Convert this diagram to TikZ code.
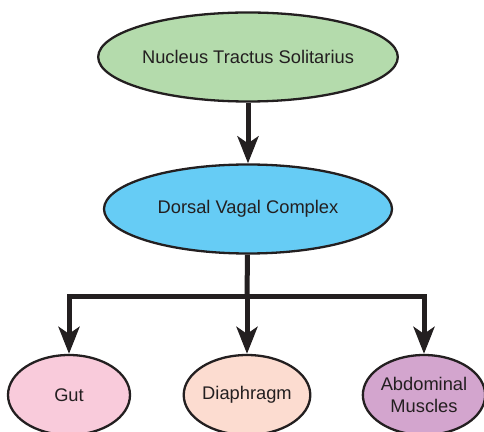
\documentclass[tikz,border=0pt]{standalone}
\usepackage{fontspec}
\setmainfont{Liberation Sans}
\usepackage{tikz}
\usetikzlibrary{arrows.meta, shapes.geometric}
\definecolor{ink}{RGB}{35, 31, 32}
\definecolor{ntsgreen}{RGB}{180, 219, 172}
\definecolor{dvcblue}{RGB}{102, 204, 245}
\definecolor{gutpink}{RGB}{249, 203, 219}
\definecolor{diapeach}{RGB}{252, 220, 208}
\definecolor{abdpurple}{RGB}{211, 165, 206}

\begin{document}
\begin{tikzpicture}[x=1pt, y=1pt,
    blob/.style={ellipse, draw=ink, line width=2.3pt, inner sep=0pt, text=ink,
                 align=center, font=\fontsize{18.3}{22}\selectfont},
    big/.style={blob, minimum width=288pt, minimum height=89pt},
    small/.style={blob, minimum width=120pt, minimum height=80pt},
    wire/.style={draw=ink, line width=5pt, miter limit=10},
    arrow/.style={wire, -{Stealth[length=27pt, width=21pt, inset=7pt]}}]
  \useasboundingbox (0, 0) rectangle (484, 431);

  \node [big, fill=ntsgreen] (nts) at (248, 374) {Nucleus Tractus Solitarius};
  \node [big, fill=dvcblue] (dvc) at (248, 222) {Dorsal Vagal Complex};

  \node [small, fill=gutpink, minimum width=122pt] (gut) at (69, 36) {Gut};
  \node [small, fill=diapeach] (dia) at (247, 36) {Diaphragm};
  \node [small, fill=abdpurple] (abd) at (424, 36) {Abdominal\\Muscles};

  \coordinate (branch) at (247, 134);

  \draw [arrow] (nts) -- (dvc);
  \draw [wire] (dvc) -- (branch);
  \draw [arrow] (branch) -| (gut);
  \draw [arrow] (branch) -| (abd);
  \draw [arrow] (branch) -- (dia);

\end{tikzpicture}
\end{document}
